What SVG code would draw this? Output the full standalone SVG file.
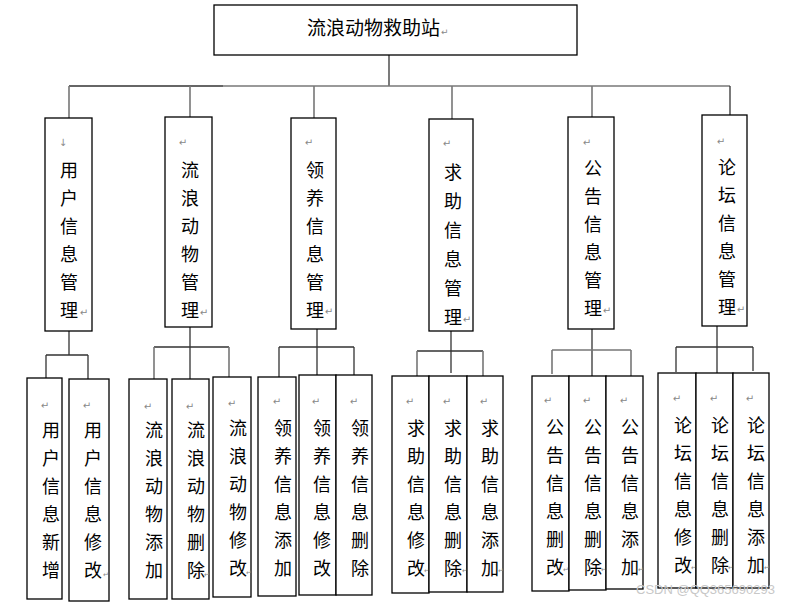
<svg xmlns="http://www.w3.org/2000/svg" width="792" height="602" viewBox="0 0 792 602">
<style>
.box{fill:#fff;stroke:#000;stroke-width:1.3}
.ln{stroke:#333;stroke-width:1.3;fill:none}
.lg{stroke:#777;stroke-width:1.6;fill:none}
.t{font-family:"Liberation Serif","Noto Sans CJK SC",serif;font-size:18px;fill:#000;text-anchor:middle}
.tt{font-family:"Liberation Serif","Noto Sans CJK SC",serif;font-size:19px;fill:#000}
.m{font-family:"DejaVu Sans",sans-serif;font-size:10px;fill:#888;text-anchor:middle}
.wm{font-family:"Liberation Sans",Arial,sans-serif;font-size:13px;fill:#c8c8c8}
</style>
<rect width="792" height="602" fill="#fff"/>
<g id="connectors">
<path class="ln" d="M389 55V86"/>
<path class="ln" d="M69 86H223"/>
<path class="lg" d="M223 86H730"/>
<path class="lg" d="M69 86V118M190 86V117M314 86V118M452 86V119M592 86V117"/>
<path class="ln" d="M730 86V115"/>
<path class="ln" d="M69 331V355M46 355H88M46 355V378M88 355V380"/>
<path class="ln" d="M190 327V380M154 347H229"/>
<path class="lg" d="M154 347V379M229 347V377"/>
<path class="ln" d="M317 329V375M279 347H354M279 347V377M354 347V375"/>
<path class="ln" d="M451 331V373M417 351H483"/>
<path class="lg" d="M417 351V376M483 351V376"/>
<path class="ln" d="M592 329V376"/>
<path class="lg" d="M552 350H631M552 350V374M631 350V376"/>
<path class="ln" d="M717 326V373M676 347H753M676 347V372M753 347V371"/>
</g>
<g id="root">
<rect class="box" x="214" y="5" width="363" height="50"/>
<text class="tt" x="307" y="35">流浪动物救助站<tspan class="m" dx="1" style="font-size:9px">↵</tspan></text>
</g>
<g id="n1">
<rect class="box" x="45" y="118" width="47" height="213"/>
<text class="m" x="63" y="146">↓</text>
<text class="t" x="69" y="177">用<tspan x="69" dy="28">户</tspan><tspan x="69" dy="28">信</tspan><tspan x="69" dy="28">息</tspan><tspan x="69" dy="28">管</tspan><tspan x="69" dy="28">理</tspan></text>
<text class="m" x="84" y="316">↵</text>
</g>
<g id="n2">
<rect class="box" x="165" y="117" width="47" height="210"/>
<text class="m" x="183" y="146">↵</text>
<text class="t" x="190" y="177">流<tspan x="190" dy="28">浪</tspan><tspan x="190" dy="28">动</tspan><tspan x="190" dy="28">物</tspan><tspan x="190" dy="28">管</tspan><tspan x="190" dy="28">理</tspan></text>
<text class="m" x="204" y="316">↵</text>
</g>
<g id="n3">
<rect class="box" x="291" y="118" width="45" height="211"/>
<text class="m" x="309" y="146">↵</text>
<text class="t" x="315" y="177">领<tspan x="315" dy="28">养</tspan><tspan x="315" dy="28">信</tspan><tspan x="315" dy="28">息</tspan><tspan x="315" dy="28">管</tspan><tspan x="315" dy="28">理</tspan></text>
<text class="m" x="329" y="315">↵</text>
</g>
<g id="n4">
<rect class="box" x="429" y="119" width="44" height="212"/>
<text class="m" x="447" y="147">↵</text>
<text class="t" x="453" y="179">求<tspan x="453" dy="29">助</tspan><tspan x="453" dy="29">信</tspan><tspan x="453" dy="29">息</tspan><tspan x="453" dy="29">管</tspan><tspan x="453" dy="29">理</tspan></text>
<text class="m" x="467" y="323">↵</text>
</g>
<g id="n5">
<rect class="box" x="568" y="117" width="46" height="212"/>
<text class="m" x="587" y="146">↵</text>
<text class="t" x="593" y="175">公<tspan x="593" dy="28">告</tspan><tspan x="593" dy="28">信</tspan><tspan x="593" dy="28">息</tspan><tspan x="593" dy="28">管</tspan><tspan x="593" dy="28">理</tspan></text>
<text class="m" x="607" y="314">↵</text>
</g>
<g id="n6">
<rect class="box" x="702" y="115" width="45" height="211"/>
<text class="m" x="721" y="145">↵</text>
<text class="t" x="727" y="174">论<tspan x="727" dy="28">坛</tspan><tspan x="727" dy="28">信</tspan><tspan x="727" dy="28">息</tspan><tspan x="727" dy="28">管</tspan><tspan x="727" dy="28">理</tspan></text>
<text class="m" x="741" y="313">↵</text>
</g>
<g id="n1a">
<rect class="box" x="27" y="378" width="35" height="221"/>
<text class="m" x="45" y="409">↵</text>
<text class="t" x="51" y="437">用<tspan x="51" dy="28">户</tspan><tspan x="51" dy="28">信</tspan><tspan x="51" dy="28">息</tspan><tspan x="51" dy="28">新</tspan><tspan x="51" dy="28">增</tspan></text>
</g>
<g id="n1b">
<rect class="box" x="69" y="379" width="40" height="222"/>
<text class="m" x="87" y="409">↵</text>
<text class="t" x="93" y="437">用<tspan x="93" dy="28">户</tspan><tspan x="93" dy="28">信</tspan><tspan x="93" dy="28">息</tspan><tspan x="93" dy="28">修</tspan><tspan x="93" dy="28">改</tspan></text>
<text class="m" x="106" y="577" style="font-size:7px">↵</text>
</g>
<g id="n2a">
<rect class="box" x="129" y="379" width="38" height="220"/>
<text class="m" x="148" y="410">↵</text>
<text class="t" x="154" y="437">流<tspan x="154" dy="28">浪</tspan><tspan x="154" dy="28">动</tspan><tspan x="154" dy="28">物</tspan><tspan x="154" dy="28">添</tspan><tspan x="154" dy="28">加</tspan></text>
</g>
<g id="n2b">
<rect class="box" x="172" y="379" width="37" height="220"/>
<text class="m" x="190" y="410">↵</text>
<text class="t" x="196" y="437">流<tspan x="196" dy="28">浪</tspan><tspan x="196" dy="28">动</tspan><tspan x="196" dy="28">物</tspan><tspan x="196" dy="28">删</tspan><tspan x="196" dy="28">除</tspan></text>
<text class="m" x="207" y="577" style="font-size:7px">↵</text>
</g>
<g id="n2c">
<rect class="box" x="213" y="377" width="38" height="220"/>
<text class="m" x="232" y="407">↵</text>
<text class="t" x="238" y="435">流<tspan x="238" dy="28">浪</tspan><tspan x="238" dy="28">动</tspan><tspan x="238" dy="28">物</tspan><tspan x="238" dy="28">修</tspan><tspan x="238" dy="28">改</tspan></text>
<text class="m" x="249" y="575" style="font-size:7px">↵</text>
</g>
<g id="n3a">
<rect class="box" x="258" y="377" width="38" height="219"/>
<text class="m" x="277" y="405">↵</text>
<text class="t" x="283" y="435">领<tspan x="283" dy="28">养</tspan><tspan x="283" dy="28">信</tspan><tspan x="283" dy="28">息</tspan><tspan x="283" dy="28">添</tspan><tspan x="283" dy="28">加</tspan></text>
</g>
<g id="n3b">
<rect class="box" x="299" y="375" width="37" height="220"/>
<text class="m" x="316" y="405">↵</text>
<text class="t" x="322" y="435">领<tspan x="322" dy="28">养</tspan><tspan x="322" dy="28">信</tspan><tspan x="322" dy="28">息</tspan><tspan x="322" dy="28">修</tspan><tspan x="322" dy="28">改</tspan></text>
</g>
<g id="n3c">
<rect class="box" x="336" y="375" width="36" height="220"/>
<text class="m" x="354" y="405">↵</text>
<text class="t" x="360" y="435">领<tspan x="360" dy="28">养</tspan><tspan x="360" dy="28">信</tspan><tspan x="360" dy="28">息</tspan><tspan x="360" dy="28">删</tspan><tspan x="360" dy="28">除</tspan></text>
</g>
<g id="n4a">
<rect class="box" x="392" y="376" width="37" height="217"/>
<text class="m" x="410" y="405">↵</text>
<text class="t" x="416" y="435">求<tspan x="416" dy="28">助</tspan><tspan x="416" dy="28">信</tspan><tspan x="416" dy="28">息</tspan><tspan x="416" dy="28">修</tspan><tspan x="416" dy="28">改</tspan></text>
<text class="m" x="427" y="573" style="font-size:7px">↵</text>
</g>
<g id="n4b">
<rect class="box" x="429" y="376" width="38" height="216"/>
<text class="m" x="447" y="405">↵</text>
<text class="t" x="453" y="435">求<tspan x="453" dy="28">助</tspan><tspan x="453" dy="28">信</tspan><tspan x="453" dy="28">息</tspan><tspan x="453" dy="28">删</tspan><tspan x="453" dy="28">除</tspan></text>
<text class="m" x="465" y="573" style="font-size:7px">↵</text>
</g>
<g id="n4c">
<rect class="box" x="467" y="376" width="36" height="216"/>
<text class="m" x="484" y="405">↵</text>
<text class="t" x="490" y="435">求<tspan x="490" dy="28">助</tspan><tspan x="490" dy="28">信</tspan><tspan x="490" dy="28">息</tspan><tspan x="490" dy="28">添</tspan><tspan x="490" dy="28">加</tspan></text>
<text class="m" x="501" y="573" style="font-size:7px">↵</text>
</g>
<g id="n5a">
<rect class="box" x="532" y="376" width="37" height="215"/>
<text class="m" x="548" y="404">↵</text>
<text class="t" x="555" y="434">公<tspan x="555" dy="28">告</tspan><tspan x="555" dy="28">信</tspan><tspan x="555" dy="28">息</tspan><tspan x="555" dy="28">删</tspan><tspan x="555" dy="28">改</tspan></text>
<text class="m" x="566" y="572" style="font-size:7px">↵</text>
</g>
<g id="n5b">
<rect class="box" x="569" y="376" width="37" height="214"/>
<text class="m" x="587" y="404">↵</text>
<text class="t" x="593" y="434">公<tspan x="593" dy="28">告</tspan><tspan x="593" dy="28">信</tspan><tspan x="593" dy="28">息</tspan><tspan x="593" dy="28">删</tspan><tspan x="593" dy="28">除</tspan></text>
<text class="m" x="604" y="572" style="font-size:7px">↵</text>
</g>
<g id="n5c">
<rect class="box" x="606" y="376" width="37" height="213"/>
<text class="m" x="624" y="404">↵</text>
<text class="t" x="630" y="434">公<tspan x="630" dy="28">告</tspan><tspan x="630" dy="28">信</tspan><tspan x="630" dy="28">息</tspan><tspan x="630" dy="28">添</tspan><tspan x="630" dy="28">加</tspan></text>
<text class="m" x="641" y="572" style="font-size:7px">↵</text>
</g>
<g id="n6a">
<rect class="box" x="658" y="373" width="38" height="215"/>
<text class="m" x="677" y="402">↵</text>
<text class="t" x="683" y="432">论<tspan x="683" dy="28">坛</tspan><tspan x="683" dy="28">信</tspan><tspan x="683" dy="28">息</tspan><tspan x="683" dy="28">修</tspan><tspan x="683" dy="28">改</tspan></text>
<text class="m" x="694" y="570" style="font-size:7px">↵</text>
</g>
<g id="n6b">
<rect class="box" x="696" y="373" width="37" height="215"/>
<text class="m" x="714" y="402">↵</text>
<text class="t" x="720" y="432">论<tspan x="720" dy="28">坛</tspan><tspan x="720" dy="28">信</tspan><tspan x="720" dy="28">息</tspan><tspan x="720" dy="28">删</tspan><tspan x="720" dy="28">除</tspan></text>
<text class="m" x="731" y="570" style="font-size:7px">↵</text>
</g>
<g id="n6c">
<rect class="box" x="733" y="373" width="36" height="215"/>
<text class="m" x="750" y="402">↵</text>
<text class="t" x="756" y="432">论<tspan x="756" dy="28">坛</tspan><tspan x="756" dy="28">信</tspan><tspan x="756" dy="28">息</tspan><tspan x="756" dy="28">添</tspan><tspan x="756" dy="28">加</tspan></text>
<text class="m" x="767" y="570" style="font-size:7px">↵</text>
</g>
<text class="wm" x="636" y="594">CSDN @QQ365690293</text>
</svg>
